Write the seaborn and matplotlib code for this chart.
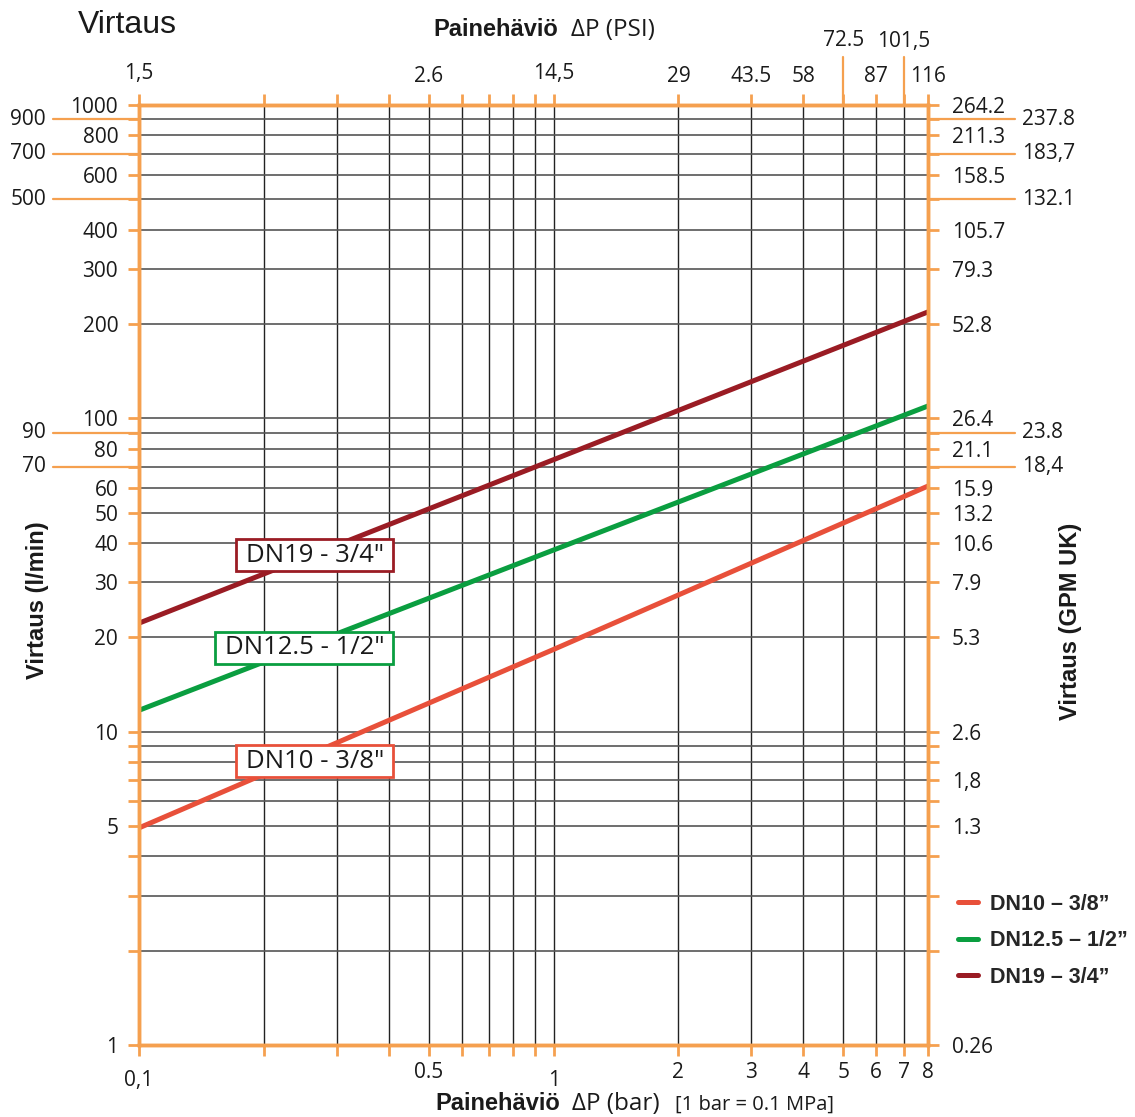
import pandas as pd
import matplotlib
matplotlib.use("Agg")
import matplotlib.pyplot as plt
import matplotlib.transforms as mtransforms
from matplotlib.patches import Rectangle
from matplotlib.ticker import NullLocator
import seaborn as sns

# Flow vs. pressure drop
pressure_bar = [0.1, 1, 8]
flow_dn10 = [4.93, 18.3, 60.8]
flow_dn125 = [11.7, 38.0, 109.5]
flow_dn19 = [22.2, 73.8, 218.6]
series_names = ['DN10 – 3/8”', 'DN12.5 – 1/2”', 'DN19 – 3/4”']
box_texts = ['DN10 - 3/8"', 'DN12.5 - 1/2"', 'DN19 - 3/4"']
box_x = [0.390, 0.390, 0.390]
box_y = [8.06, 18.5, 36.6]

# x axis (bar) grid + labels
bar_ticks = [0.1, 0.2, 0.3, 0.4, 0.5, 0.6, 0.7, 0.8, 0.9, 1, 2, 3, 4, 5, 6, 7, 8]
bar_labels = ['0,1', '', '', '', '0.5', '', '', '', '', '1', '2', '3', '4', '5', '6', '7', '8']
# top axis (PSI)
psi_pos = [0.1, 0.5, 1, 2, 3, 4, 5, 6, 7, 8]
psi_labels = ['1,5', '2.6', '14,5', '29', '43.5', '58', '72.5', '87', '101,5', '116']

# y axis (l/min) grid + labels
flow_ticks = [1, 2, 3, 4, 5, 6, 7, 8, 9, 10, 20, 30, 40, 50, 60, 70, 80, 90,
              100, 200, 300, 400, 500, 600, 700, 800, 900, 1000]
flow_labels = ['1', '', '', '', '5', '', '', '', '', '10', '20', '30', '40', '50', '60', '', '80', '',
               '100', '200', '300', '400', '', '600', '', '800', '', '1000']
gpm_labels = ['0.26', '', '', '', '1.3', '', '1,8', '', '', '2.6', '5.3', '7.9', '10.6', '13.2', '15.9', '', '21.1', '',
              '26.4', '52.8', '79.3', '105.7', '', '158.5', '', '211.3', '', '264.2']
outer_vals = [900, 700, 500, 90, 70]
outer_left = ['900', '700', '500', '90', '70']
outer_right = ['237.8', '183,7', '132.1', '23.8', '18,4']

ORANGE = '#f5a04f'
TXT = '#1a1a1a'
TICK_FS = 15
palette = dict(zip(series_names, ['#e8503a', '#0a9e40', '#9a1c24']))

sns.set_theme(style="white")
plt.rcParams['font.family'] = ['Open Sans', 'DejaVu Sans']

W, H = 1135, 1117
fig = plt.figure(figsize=(W / 100, H / 100), dpi=100)
ax = fig.add_axes([139 / W, 1 - 1045 / H, (928 - 139) / W, (1045 - 105) / H])

df = pd.DataFrame({
    'bar': pressure_bar * 3,
    'flow': flow_dn10 + flow_dn125 + flow_dn19,
    'size': [n for n in series_names for _ in pressure_bar],
})
sns.lineplot(data=df, x='bar', y='flow', hue='size', palette=palette,
             linewidth=3.6, ax=ax)

ax.set_xscale('log')
ax.set_yscale('log')
ax.set_xticks(bar_ticks, bar_labels)
ax.set_yticks(flow_ticks, flow_labels)
ax.xaxis.set_minor_locator(NullLocator())
ax.yaxis.set_minor_locator(NullLocator())
ax.set_xlabel('')
ax.set_ylabel('')

ax.grid(True, axis='x', color='#222222', lw=1.0)
ax.grid(True, axis='y', color='#555555', lw=1.2)
ax.set_axisbelow(True)

ax.tick_params(axis='both', which='major', direction='out', length=8, width=2,
               color=ORANGE, labelsize=TICK_FS, labelcolor=TXT)
ax.tick_params(axis='x', bottom=True, top=True, pad=4)
ax.tick_params(axis='y', left=True, right=False, pad=7)
for s in ax.spines.values():
    s.set_color(ORANGE)
    s.set_linewidth(2.5)

# push "0,1" and "1" a bit lower, like the reference
shift = mtransforms.ScaledTranslation(0, -8 / 100, fig.dpi_scale_trans)
for t in ax.get_xticklabels():
    if t.get_text() in ('0,1', '1'):
        t.set_transform(t.get_transform() + shift)

# right axis in GPM UK
ax2 = ax.twinx()
ax2.set_yscale('log')
ax2.set_ylim(1, 1000)
ax2.set_yticks(flow_ticks, gpm_labels)
ax2.yaxis.set_minor_locator(NullLocator())
ax2.grid(False)
ax2.tick_params(axis='y', right=True, direction='out', length=8, width=2,
                color=ORANGE, labelsize=TICK_FS, labelcolor=TXT, pad=9)
for s in ax2.spines.values():
    s.set_color(ORANGE)
    s.set_linewidth(2.5)

# outer orange guide lines with extra labels
tr_y = mtransforms.blended_transform_factory(ax.transAxes, ax.transData)
for v, l_lab, r_lab in zip(outer_vals, outer_left, outer_right):
    ax.plot([-0.109, 0], [v, v], color=ORANGE, lw=1.6, transform=tr_y, clip_on=False)
    ax.plot([1, 1.110], [v, v], color=ORANGE, lw=1.6, transform=tr_y, clip_on=False)
    ax.text(-0.118, v, l_lab, transform=tr_y, ha='right', va='center',
            fontsize=TICK_FS, color=TXT)
    ax.text(1.119, v, r_lab, transform=tr_y, ha='left', va='center',
            fontsize=TICK_FS, color=TXT)

# top PSI labels
tr_x = mtransforms.blended_transform_factory(ax.transData, ax.transAxes)
for p, lab in zip(psi_pos, psi_labels):
    if lab in ('72.5', '101,5'):
        dy = 64
        ax.plot([p, p], [1, 1 + 48 / 940], color=ORANGE, lw=1.6,
                transform=tr_x, clip_on=False)
    elif lab in ('1,5', '14,5'):
        dy = 32
    else:
        dy = 28
    ax.annotate(lab, xy=(p, 1), xycoords=tr_x, xytext=(0, dy),
                textcoords='offset pixels', ha='center', va='center',
                fontsize=TICK_FS, color=TXT)

# series name boxes (text first, box sized from the rendered text)
box_artists = []
for txt, bx, by, name in zip(box_texts, box_x, box_y, series_names):
    t = ax.text(bx, by, txt, ha='right', va='center', fontsize=18.5, color=TXT, zorder=7)
    box_artists.append((t, palette[name]))

ax.set_xlim(0.1, 8)
ax.set_ylim(1, 1000)

sns.move_legend(ax, 'upper left', bbox_to_anchor=(958 / W, 1 - 894 / H),
                bbox_transform=fig.transFigure, frameon=False, title=None,
                prop={'family': 'Liberation Sans', 'weight': 'bold', 'size': 15.5},
                handlelength=0.95, handletextpad=0.55, labelspacing=0.72,
                borderpad=0, borderaxespad=0)

fig.canvas.draw()
renderer = fig.canvas.get_renderer()
for t, col in box_artists:
    bb = t.get_window_extent(renderer)
    cy = (bb.y0 + bb.y1) / 2
    rect = Rectangle((bb.x0 - 10, cy - 16), bb.width + 19, 32,
                     transform=mtransforms.IdentityTransform(),
                     facecolor='white', edgecolor=col, lw=2, zorder=6)
    ax.add_patch(rect)

# titles and axis names
bold = dict(family='Liberation Sans', weight='bold', fontsize=17, color=TXT)
fig.text(78 / W, 1 - 25 / H, 'Virtaus', family='Liberation Sans', fontsize=23,
         color=TXT, ha='left', va='center')
fig.text(38 / W, 1 - 600 / H, 'Virtaus (l/min)', rotation=90, ha='center', va='center', **bold)
fig.text(1071 / W, 1 - 621 / H, 'Virtaus (GPM UK)', rotation=90, ha='center', va='center', **bold)
fig.text(433 / W, 1 - 30 / H, 'Painehäviö', ha='left', va='center', **bold)
fig.text(571 / W, 1 - 30 / H, 'ΔP (PSI)', ha='left', va='center', fontsize=17.5, color=TXT)
fig.text(435 / W, 1 - 1104 / H, 'Painehäviö', ha='left', va='center', **bold)
fig.text(572 / W, 1 - 1104 / H, 'ΔP (bar)', ha='left', va='center', fontsize=17.5, color=TXT)
fig.text(675 / W, 1 - 1105 / H, '[1 bar = 0.1 MPa]', ha='left', va='center', fontsize=14.5, color=TXT)

fig.savefig('out.png', dpi=100, facecolor='white')
